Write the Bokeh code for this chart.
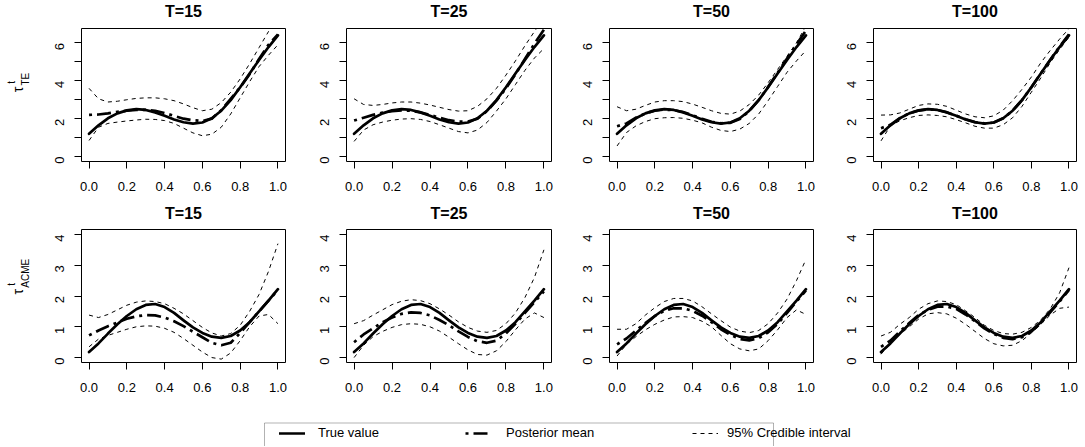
import math
from bokeh.plotting import figure
from bokeh.layouts import column, row
from bokeh.models import Range1d, FixedTicker, Legend, LegendItem, BoxAnnotation
from bokeh.embed import file_html
from bokeh.resources import INLINE

# ---------------- data ----------------
t_grid = [0.00, 0.05, 0.10, 0.15, 0.20, 0.25, 0.30, 0.35, 0.40, 0.45, 0.50,
          0.55, 0.60, 0.65, 0.70, 0.75, 0.80, 0.85, 0.90, 0.95, 1.00]
titles = ["T=15", "T=25", "T=50", "T=100"]

true_te = [1.20, 1.65, 2.02, 2.28, 2.44, 2.50, 2.46, 2.33, 2.15, 1.96, 1.81,
           1.74, 1.80, 2.02, 2.42, 2.98, 3.66, 4.38, 5.10, 5.78, 6.40]
true_acme = [0.18, 0.46, 0.78, 1.08, 1.35, 1.57, 1.71, 1.74, 1.64, 1.45, 1.21,
             0.98, 0.80, 0.68, 0.64, 0.70, 0.88, 1.15, 1.50, 1.85, 2.22]

te15_mean = [2.20, 2.22, 2.28, 2.36, 2.42, 2.46, 2.47, 2.42, 2.30, 2.15, 2.00,
             1.92, 1.88, 2.00, 2.45, 3.05, 3.65, 4.35, 5.15, 5.90, 6.45]
te15_lo = [0.85, 1.55, 1.75, 1.82, 1.88, 1.93, 1.97, 1.96, 1.90, 1.75, 1.50,
           1.25, 1.10, 1.18, 1.55, 2.25, 3.10, 3.95, 4.75, 5.35, 5.90]
te15_hi = [3.60, 3.05, 2.88, 2.92, 3.00, 3.07, 3.10, 3.10, 3.05, 2.95, 2.78,
           2.58, 2.42, 2.50, 2.85, 3.40, 4.10, 4.90, 5.75, 6.60, 7.30]

te25_mean = [1.90, 2.05, 2.20, 2.32, 2.40, 2.44, 2.42, 2.33, 2.20, 2.05, 1.92,
             1.85, 1.85, 2.00, 2.40, 2.95, 3.60, 4.35, 5.15, 5.95, 6.70]
te25_lo = [0.80, 1.40, 1.68, 1.82, 1.92, 1.98, 2.00, 1.96, 1.85, 1.68, 1.50,
           1.32, 1.25, 1.40, 1.80, 2.40, 3.05, 3.80, 4.55, 5.20, 5.70]
te25_hi = [3.05, 2.75, 2.70, 2.75, 2.83, 2.88, 2.88, 2.82, 2.72, 2.60, 2.48,
           2.40, 2.42, 2.65, 3.05, 3.60, 4.30, 5.05, 5.85, 6.60, 7.30]

te50_mean = [1.60, 1.75, 2.05, 2.28, 2.42, 2.48, 2.45, 2.35, 2.18, 2.00, 1.84,
             1.76, 1.78, 1.98, 2.40, 2.98, 3.68, 4.42, 5.18, 5.92, 6.65]
te50_lo = [0.56, 1.27, 1.62, 1.85, 2.00, 2.05, 2.06, 2.02, 1.92, 1.78, 1.55,
           1.38, 1.32, 1.45, 1.75, 2.25, 2.95, 3.70, 4.45, 5.05, 5.60]
te50_hi = [2.63, 2.42, 2.50, 2.70, 2.88, 2.95, 2.95, 2.90, 2.77, 2.60, 2.42,
           2.28, 2.24, 2.40, 2.75, 3.25, 3.90, 4.60, 5.30, 6.00, 6.90]

te100_mean = [1.50, 1.68, 2.03, 2.28, 2.43, 2.49, 2.46, 2.34, 2.16, 1.97, 1.82,
              1.75, 1.80, 2.02, 2.42, 2.98, 3.66, 4.38, 5.10, 5.80, 6.45]
te100_lo = [0.83, 1.62, 1.89, 2.05, 2.17, 2.20, 2.17, 2.10, 1.95, 1.78, 1.60,
            1.50, 1.50, 1.68, 2.05, 2.65, 3.40, 4.15, 4.95, 5.65, 6.30]
te100_hi = [2.19, 2.20, 2.30, 2.50, 2.70, 2.78, 2.76, 2.65, 2.45, 2.25, 2.10,
            2.05, 2.15, 2.45, 2.95, 3.55, 4.20, 4.95, 5.60, 6.20, 6.75]

acme15_mean = [0.72, 0.88, 1.02, 1.14, 1.26, 1.34, 1.38, 1.37, 1.30, 1.18, 1.02,
               0.84, 0.66, 0.48, 0.40, 0.48, 0.80, 1.15, 1.50, 1.85, 2.20]
acme15_lo = [0.35, 0.60, 0.72, 0.82, 0.92, 1.00, 1.03, 1.02, 0.95, 0.82, 0.62,
             0.40, 0.18, 0.00, -0.05, 0.15, 0.55, 1.00, 1.35, 1.40, 1.10]
acme15_hi = [1.38, 1.30, 1.40, 1.55, 1.70, 1.80, 1.84, 1.82, 1.75, 1.60, 1.42,
             1.20, 0.98, 0.80, 0.70, 0.78, 1.05, 1.50, 2.05, 2.80, 3.70]

acme25_mean = [0.50, 0.75, 0.95, 1.15, 1.30, 1.42, 1.47, 1.45, 1.37, 1.22, 1.05,
               0.85, 0.67, 0.53, 0.48, 0.55, 0.78, 1.10, 1.45, 1.80, 2.15]
acme25_lo = [0.00, 0.40, 0.68, 0.85, 0.98, 1.07, 1.10, 1.08, 1.00, 0.86, 0.66,
             0.45, 0.25, 0.10, 0.08, 0.22, 0.52, 0.90, 1.25, 1.45, 1.30]
acme25_hi = [1.10, 1.20, 1.38, 1.55, 1.72, 1.83, 1.88, 1.85, 1.75, 1.58, 1.38,
             1.16, 0.98, 0.86, 0.82, 0.88, 1.10, 1.45, 1.95, 2.60, 3.50]

acme50_mean = [0.43, 0.62, 0.88, 1.12, 1.35, 1.52, 1.60, 1.60, 1.52, 1.36, 1.15,
               0.92, 0.74, 0.60, 0.56, 0.63, 0.82, 1.10, 1.45, 1.82, 2.18]
acme50_lo = [0.05, 0.43, 0.68, 0.90, 1.08, 1.22, 1.32, 1.33, 1.30, 1.18, 1.00,
             0.72, 0.45, 0.28, 0.22, 0.28, 0.55, 0.90, 1.30, 1.55, 1.40]
acme50_hi = [0.92, 0.92, 1.10, 1.38, 1.62, 1.82, 1.92, 1.92, 1.84, 1.65, 1.42,
             1.20, 0.99, 0.86, 0.81, 0.88, 1.10, 1.45, 1.90, 2.50, 3.19]

acme100_mean = [0.35, 0.55, 0.85, 1.12, 1.38, 1.55, 1.65, 1.66, 1.58, 1.40, 1.18,
                0.95, 0.77, 0.64, 0.60, 0.66, 0.85, 1.12, 1.47, 1.82, 2.20]
acme100_lo = [0.11, 0.45, 0.75, 1.00, 1.25, 1.42, 1.46, 1.42, 1.28, 1.08, 0.85,
              0.62, 0.45, 0.38, 0.40, 0.55, 0.80, 1.08, 1.38, 1.60, 1.64]
acme100_hi = [0.70, 0.82, 1.08, 1.30, 1.57, 1.75, 1.84, 1.82, 1.72, 1.52, 1.30,
              1.05, 0.88, 0.78, 0.76, 0.82, 0.98, 1.22, 1.58, 2.10, 2.92]

x_ticks = [0.0, 0.2, 0.4, 0.6, 0.8, 1.0]
te_ticks = [0, 1, 2, 3, 4, 5, 6]
acme_ticks = [0, 1, 2, 3, 4]
legend_labels = ["True value", "Posterior mean", "95% Credible interval"]
ylab_symbol = "τ"
ylab_sup = "t"
ylab_subs = ["TE", "ACME"]

# ---------------- styling / geometry ----------------
FONT = "Liberation Sans"
TRUE_W = 2.7
MEAN_W = 2.7
MEAN_DASH = "3 5 14 5"
CI_DASH = "4 4"
TOTAL_W = 1084

STRIP_W = 36
col_w = [264, 263, 263, 258]
col_l = [45, 46, 46, 47]
col_r = [15, 12, 13, 8]
title_h = [27, 33]          # height of the strip holding the panel titles
panel_h = [168, 167]        # height of each panel canvas (1px top border + frame + axis)
title_y = [16, 15]          # title centre, px above the strip bottom
ylab_y = [91, 89]           # y-label centre, px above the panel canvas bottom
FRAME_H = 133
X_RANGE = (-0.04, 1.04)
Y_RANGES = [(-0.26, 6.76), (-0.16, 4.16)]


def make_panel(ci, ri, truth, mean, lo, hi):
    h = panel_h[ri]
    bt = 1
    bb = h - bt - FRAME_H
    y0, y1 = Y_RANGES[ri]
    x0, x1 = X_RANGE
    p = figure(width=col_w[ci], height=h, x_range=Range1d(x0, x1), y_range=Range1d(y0, y1),
               toolbar_location=None, output_backend="svg",
               min_border_left=col_l[ci], min_border_right=col_r[ci],
               min_border_top=bt, min_border_bottom=bb)
    p.outline_line_color = "black"
    p.outline_line_width = 1
    p.outline_line_alpha = 1
    p.xgrid.visible = False
    p.ygrid.visible = False
    p.background_fill_color = "white"
    p.border_fill_color = "white"

    for ax in (p.xaxis[0], p.yaxis[0]):
        ax.axis_line_color = "black"
        ax.major_tick_line_color = "black"
        ax.major_tick_out = 7
        ax.major_tick_in = 0
        ax.minor_tick_line_color = None
        ax.major_label_text_font = FONT
        ax.major_label_text_font_size = "13px"
        ax.major_label_text_color = "black"
    p.xaxis[0].ticker = FixedTicker(ticks=x_ticks)
    p.xaxis[0].major_label_overrides = {v: "%.1f" % v for v in x_ticks}
    p.xaxis[0].major_label_standoff = 13
    p.xaxis[0].bounds = (0, 1)
    yt = te_ticks if ri == 0 else acme_ticks
    p.yaxis[0].ticker = FixedTicker(ticks=yt)
    if ri == 0:
        p.yaxis[0].major_label_overrides = {v: (str(v) if v % 2 == 0 else "") for v in yt}
    p.yaxis[0].major_label_orientation = math.pi / 2
    p.yaxis[0].major_label_standoff = 15
    p.yaxis[0].bounds = (yt[0], yt[-1])

    p.line(t_grid, truth, line_color="black", line_width=TRUE_W,
           line_join="round", line_cap="round")
    p.line(t_grid, mean, line_color="black", line_width=MEAN_W,
           line_dash=MEAN_DASH, line_join="round")
    p.line(t_grid, lo, line_color="black", line_width=1, line_dash=CI_DASH)
    p.line(t_grid, hi, line_color="black", line_width=1, line_dash=CI_DASH)
    return p


def blank(width, height):
    s = figure(width=width, height=height, x_range=Range1d(0, width), y_range=Range1d(0, height),
               toolbar_location=None, output_backend="svg", min_border=0,
               x_axis_type=None, y_axis_type=None)
    s.outline_line_color = None
    s.xgrid.visible = False
    s.ygrid.visible = False
    return s


def make_title_strip(ri):
    s = blank(TOTAL_W, title_h[ri])
    # centre of each panel frame, in px from the left of the page
    centres = []
    left = STRIP_W
    for ci in range(4):
        fw = col_w[ci] - col_l[ci] - col_r[ci]
        centres.append(left + col_l[ci] + fw / 2)
        left += col_w[ci]
    s.text(x=centres, y=[title_y[ri]] * 4, text=titles,
           text_align="center", text_baseline="middle", text_font_size="16px",
           text_font_style="bold", text_color="black", text_font={"value": FONT})
    return s


def make_ylab_strip(ri):
    """Narrow canvas holding the rotated y-axis label (tau with sup/subscript)."""
    s = blank(STRIP_W, panel_h[ri])
    yc = ylab_y[ri]
    s.text(x=[17], y=[yc], text=[ylab_symbol], angle=math.pi / 2,
           text_align="center", text_baseline="middle", text_font_size="14px",
           text_color="black", text_font={"value": FONT})
    s.text(x=[25], y=[yc + 5], text=[ylab_subs[ri]], angle=math.pi / 2,
           text_align="left", text_baseline="middle", text_font_size="10px",
           text_color="black", text_font={"value": FONT})
    s.text(x=[10.5], y=[yc + 9], text=[ylab_sup], angle=math.pi / 2,
           text_align="center", text_baseline="middle", text_font_size="10px",
           text_color="black", text_font={"value": FONT})
    return s


top_sets = [(te15_mean, te15_lo, te15_hi), (te25_mean, te25_lo, te25_hi),
            (te50_mean, te50_lo, te50_hi), (te100_mean, te100_lo, te100_hi)]
bot_sets = [(acme15_mean, acme15_lo, acme15_hi), (acme25_mean, acme25_lo, acme25_hi),
            (acme50_mean, acme50_lo, acme50_hi), (acme100_mean, acme100_lo, acme100_hi)]

top_row = [make_ylab_strip(0)] + [make_panel(i, 0, true_te, *top_sets[i]) for i in range(4)]
bot_row = [make_ylab_strip(1)] + [make_panel(i, 1, true_acme, *bot_sets[i]) for i in range(4)]

# ---------------- legend ----------------
leg = figure(width=TOTAL_W, height=51, x_range=Range1d(0, 1), y_range=Range1d(0, 1),
             toolbar_location=None, output_backend="svg", min_border=0,
             x_axis_type=None, y_axis_type=None)
leg.outline_line_color = None
leg.xgrid.visible = False
leg.ygrid.visible = False
off = [-10, -9]  # sample lines kept outside the visible range; used only for legend glyphs
r1 = leg.line(off, off, line_color="black", line_width=TRUE_W, line_cap="round")
r2 = leg.line(off, off, line_color="black", line_width=MEAN_W, line_dash=MEAN_DASH)
r3 = leg.line(off, off, line_color="black", line_width=1, line_dash=CI_DASH)
leg.add_layout(BoxAnnotation(left=264, right=773, bottom=-6, top=23.5,
                             left_units="screen", right_units="screen",
                             bottom_units="screen", top_units="screen",
                             fill_alpha=0, line_color="black", line_width=1))
for r, lab, xpos, so in [(r1, legend_labels[0], 279, 13), (r2, legend_labels[1], 465, 15),
                         (r3, legend_labels[2], 692, 9)]:
    L = Legend(items=[LegendItem(label=lab, renderers=[r])], location=(xpos, 6),
               orientation="horizontal", glyph_width=26, glyph_height=14,
               label_standoff=so, padding=0, margin=0, spacing=0,
               border_line_color=None, background_fill_alpha=0,
               label_text_font=FONT, label_text_font_size="13px",
               label_text_color="black", label_height=14)
    leg.add_layout(L, "center")

layout = column(make_title_strip(0), row(*top_row),
                make_title_strip(1), row(*bot_row), leg)
open("out.html", "w").write(file_html(layout, INLINE))
